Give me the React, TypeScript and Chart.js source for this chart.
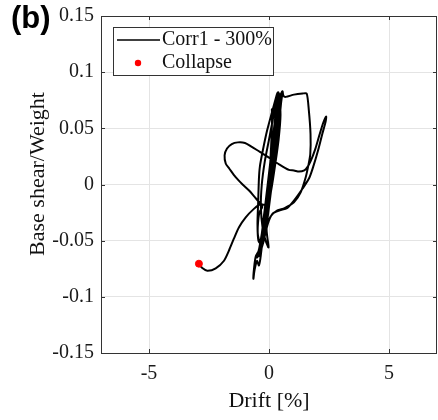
import React, { useEffect, useRef } from "react";
import { Chart, registerables } from "chart.js";

Chart.register(...registerables);

// ---- Data (drift [%], base shear / weight) ----
const xTicks = [-5, 0, 5];
const xTickLabels = ["-5", "0", "5"];
const yTicks = [-0.15, -0.1, -0.05, 0, 0.05, 0.1, 0.15];
const yTickLabels = ["-0.15", "-0.1", "-0.05", "0", "0.05", "0.1", "0.15"];

const seriesLabel = "Corr1 - 300%";
const collapseLabel = "Collapse";

// early narrow cycles in the central band
const bandCyclesA: [number, number][] = [
  [0, 0], [0.06, 0.012], [0.14, 0.028], [0.2, 0.036], [0.16, 0.03], [0.05, 0.012],
  [-0.06, -0.004], [-0.16, -0.02], [-0.24, -0.032], [-0.2, -0.026], [-0.1, -0.01],
  [0.0, 0.006], [0.12, 0.026], [0.22, 0.045], [0.3, 0.06], [0.34, 0.066], [0.3, 0.056],
  [0.18, 0.034], [0.04, 0.01], [-0.1, -0.014], [-0.22, -0.034], [-0.32, -0.05],
  [-0.36, -0.055], [-0.3, -0.046], [-0.18, -0.026], [-0.06, -0.006], [0.04, 0.014],
  [0.1, 0.04], [0.13, 0.06], [0.12, 0.067], [0.16, 0.064], [0.3, 0.072], [0.4, 0.081],
  [0.44, 0.08], [0.42, 0.072], [0.34, 0.055], [0.2, 0.03], [0.06, 0.006], [-0.08, -0.018],
  [-0.22, -0.04], [-0.34, -0.056], [-0.42, -0.064], [-0.36, -0.056], [-0.22, -0.034],
  [-0.08, -0.01],
];

// excursion to the right along the top
const rightLoop: [number, number][] = [
  [0.0, 0.0], [0.15, 0.03], [0.3, 0.06], [0.45, 0.078], [0.56, 0.083], [0.6, 0.079],
  [0.7, 0.078], [1.04, 0.08], [1.4, 0.081], [1.57, 0.081], [1.66, 0.066], [1.73, 0.045],
  [1.72, 0.027], [1.64, 0.017], [1.53, 0.0065], [1.32, -0.007], [1.04, -0.0158],
  [0.65, -0.021], [0.35, -0.023], [0.08, -0.028], [-0.12, -0.038], [-0.28, -0.05],
  [-0.42, -0.06], [-0.5, -0.065], [-0.4, -0.056], [-0.24, -0.036], [-0.1, -0.016],
];

// dense core cycles
const bandCyclesD: [number, number][] = [
  [-0.2, -0.035], [-0.33, -0.05], [-0.22, -0.03], [-0.11, -0.01], [0.0, 0.01], [0.11, 0.03],
  [0.22, 0.05], [0.33, 0.068], [0.37, 0.072], [0.36, 0.066], [0.3, 0.05], [0.19, 0.03],
  [0.08, 0.01], [-0.03, -0.01], [-0.14, -0.03], [-0.25, -0.048], [-0.3, -0.054],
  [-0.24, -0.04], [-0.13, -0.02], [-0.04, 0.0], [0.06, 0.02], [0.16, 0.04], [0.26, 0.06],
  [0.36, 0.076], [0.4, 0.078], [0.38, 0.07], [0.28, 0.05], [0.17, 0.03], [0.06, 0.01],
  [-0.05, -0.01], [-0.16, -0.03], [-0.28, -0.05], [-0.34, -0.057],
  [-0.28, -0.045], [-0.17, -0.025], [-0.07, -0.005], [0.04, 0.015], [0.14, 0.035],
  [0.24, 0.055], [0.3, 0.064], [0.27, 0.06], [0.2, 0.045], [0.1, 0.025], [-0.01, 0.005],
  [-0.12, -0.015], [-0.22, -0.035], [-0.26, -0.043],
  [-0.18, -0.03], [-0.08, -0.01], [0.03, 0.01], [0.13, 0.03], [0.23, 0.05], [0.33, 0.07],
  [0.38, 0.077], [0.34, 0.068], [0.25, 0.05], [0.13, 0.028], [0.02, 0.008], [-0.09, -0.012],
  [-0.2, -0.032], [-0.3, -0.05], [-0.2, -0.035], [-0.08, -0.01],
];

const bandCyclesB: [number, number][] = [
  [0.05, 0.008], [0.18, 0.035], [0.3, 0.058], [0.38, 0.072], [0.42, 0.08], [0.39, 0.082],
  [0.47, 0.076], [0.44, 0.06], [0.32, 0.036], [0.16, 0.01], [0.02, -0.01], [-0.12, -0.03],
  [-0.26, -0.046], [-0.4, -0.058], [-0.55, -0.064], [-0.62, -0.074], [-0.65, -0.084],
  [-0.6, -0.076], [-0.5, -0.068], [-0.42, -0.072], [-0.36, -0.066], [-0.28, -0.052],
  [-0.16, -0.032], [-0.04, -0.01], [0.08, 0.014], [0.2, 0.04], [0.3, 0.062], [0.36, 0.074],
  [0.4, 0.072], [0.34, 0.052], [0.22, 0.026], [0.08, 0.0], [-0.06, -0.022], [-0.18, -0.042],
  [-0.28, -0.054], [-0.44, -0.05], [-0.48, -0.035], [-0.45, -0.015], [-0.42, 0.005],
  [-0.38, 0.016], [-0.26, 0.03], [-0.08, 0.048], [0.12, 0.064], [0.3, 0.078], [0.36, 0.082],
  [0.42, 0.078], [0.48, 0.062], [0.4, 0.04], [0.26, 0.018], [0.1, -0.004], [-0.04, -0.016],
  [-0.2, -0.018],
];

// loop to the left, then the spike at the far right
const leftLoopAndSpike: [number, number][] = [
  [-0.35, -0.017], [-0.6, -0.011], [-0.83, -0.0054], [-1.1, 0.0], [-1.39, 0.0065],
  [-1.65, 0.014], [-1.8, 0.0185], [-1.85, 0.026], [-1.75, 0.032], [-1.55, 0.036],
  [-1.3, 0.0375], [-1.0, 0.037], [-0.75, 0.034], [-0.38, 0.029], [0.0, 0.024],
  [0.42, 0.018], [0.83, 0.013], [1.04, 0.0125], [1.25, 0.0115], [1.47, 0.0125],
  [1.6, 0.0155], [1.74, 0.021], [1.92, 0.031], [2.1, 0.044], [2.26, 0.055], [2.38, 0.0605],
  [2.36, 0.056], [2.22, 0.045], [2.04, 0.03], [1.86, 0.017], [1.68, 0.006], [1.4, -0.0036],
  [1.04, -0.0143], [0.75, -0.021], [0.45, -0.023], [0.15, -0.026],
];

const bandCyclesC: [number, number][] = [
  [-0.05, -0.035], [-0.2, -0.048], [-0.3, -0.056], [-0.22, -0.05], [-0.1, -0.03],
  [0.02, -0.008], [0.14, 0.018], [0.26, 0.045], [0.34, 0.064], [0.4, 0.076], [0.5, 0.08],
  [0.55, 0.081], [0.5, 0.072], [0.4, 0.05], [0.26, 0.024], [0.12, 0.0], [0.0, -0.02],
  [-0.1, -0.04], [-0.02, -0.056], [-0.14, -0.05], [-0.26, -0.04], [-0.34, -0.02],
  [-0.3, 0.0], [-0.18, 0.02], [0.0, 0.04], [0.16, 0.058], [0.26, 0.07], [0.32, 0.074],
  [0.3, 0.06], [0.2, 0.038], [0.08, 0.014], [-0.04, -0.008], [-0.16, -0.03],
  [-0.26, -0.046], [-0.4, -0.05], [-0.47, -0.043], [-0.44, -0.03], [-0.38, -0.024],
  [-0.28, -0.02], [-0.35, -0.0173],
];

// final excursion to collapse
const collapseTail: [number, number][] = [
  [-0.63, -0.0217], [-0.97, -0.0292], [-1.25, -0.038], [-1.46, -0.048], [-1.67, -0.0589],
  [-1.875, -0.0679], [-2.22, -0.0747], [-2.57, -0.0768], [-2.78, -0.0744], [-2.92, -0.0708],
];

const collapsePoint: [number, number] = [-2.92, -0.0705];

const SERIF = "'Liberation Serif', 'Times New Roman', serif";
const SANS = "'Liberation Sans', Arial, sans-serif";
const AXIS_COLOR = "#333333";

const decorPlugin = {
  id: "decor",
  afterDraw(chart: any) {
    const ctx = chart.ctx as CanvasRenderingContext2D;
    const { left, right, top, bottom } = chart.chartArea;
    const xs = chart.scales.x;
    const ys = chart.scales.y;
    ctx.save();
    // box
    ctx.strokeStyle = AXIS_COLOR;
    ctx.lineWidth = 1;
    ctx.strokeRect(Math.round(left) + 0.5, Math.round(top) + 0.5, Math.round(right - left) - 1, Math.round(bottom - top));
    // inward ticks
    const tl = 4;
    ctx.beginPath();
    xTicks.forEach((v) => {
      const px = Math.round(xs.getPixelForValue(v)) + 0.5;
      ctx.moveTo(px, bottom);
      ctx.lineTo(px, bottom - tl);
      ctx.moveTo(px, top);
      ctx.lineTo(px, top + tl);
    });
    yTicks.forEach((v) => {
      const py = Math.round(ys.getPixelForValue(v)) + 0.5;
      ctx.moveTo(left, py);
      ctx.lineTo(left + tl, py);
      ctx.moveTo(right, py);
      ctx.lineTo(right - tl, py);
    });
    ctx.stroke();

    // axis titles
    ctx.fillStyle = "#111";
    ctx.font = `22px ${SERIF}`;
    ctx.textAlign = "center";
    ctx.textBaseline = "middle";
    ctx.fillText("Drift [%]", (left + right) / 2, 401);
    ctx.save();
    ctx.translate(38, 174);
    ctx.rotate(-Math.PI / 2);
    ctx.fillText("Base shear/Weight", 0, 0);
    ctx.restore();

    // panel label
    ctx.font = `bold 31px ${SANS}`;
    ctx.textAlign = "left";
    ctx.fillStyle = "#000";
    ctx.fillText("(b)", 11, 19);

    // legend
    const lx = 113, ly = 27, lw = 160, lh = 48;
    ctx.fillStyle = "#fff";
    ctx.fillRect(lx, ly, lw, lh);
    ctx.strokeStyle = "#333";
    ctx.lineWidth = 1;
    ctx.strokeRect(lx + 0.5, ly + 0.5, lw, lh);
    ctx.strokeStyle = "#000";
    ctx.lineWidth = 1.5;
    ctx.beginPath();
    ctx.moveTo(117, 40);
    ctx.lineTo(160, 40);
    ctx.stroke();
    ctx.fillStyle = "#ff0000";
    ctx.beginPath();
    ctx.arc(138, 63, 3.2, 0, Math.PI * 2);
    ctx.fill();
    ctx.fillStyle = "#111";
    ctx.font = `20px ${SERIF}`;
    ctx.textAlign = "left";
    ctx.textBaseline = "middle";
    ctx.fillText(seriesLabel, 162, 40);
    ctx.fillText(collapseLabel, 162, 63);
    ctx.restore();
  },
};

export default function App() {
  const ref = useRef<HTMLCanvasElement | null>(null);
  useEffect(() => {
    if (!ref.current) return;
    const path = [
      ...bandCyclesA,
      ...rightLoop,
      ...bandCyclesD,
      ...bandCyclesB,
      ...leftLoopAndSpike,
      ...bandCyclesC,
      ...collapseTail,
    ].map(([x, y]) => ({ x, y }));
    const chart = new Chart(ref.current, {
      type: "scatter",
      data: {
        datasets: [
          {
            label: seriesLabel,
            data: path,
            showLine: true,
            borderColor: "#000",
            borderWidth: 2,
            pointRadius: 0,
            tension: 0.25,
            order: 2,
          },
          {
            label: collapseLabel,
            data: [{ x: collapsePoint[0], y: collapsePoint[1] }],
            showLine: false,
            pointRadius: 3.5,
            pointBackgroundColor: "#ff0000",
            pointBorderColor: "#ff0000",
            order: 1,
          },
        ],
      },
      options: {
        responsive: false,
        animation: false,
        layout: { padding: { left: 0, right: 1, top: 16, bottom: 0 } },
        plugins: { legend: { display: false }, tooltip: { enabled: false } },
        scales: {
          x: {
            type: "linear",
            min: -7,
            max: 7,
            afterBuildTicks: (s: any) => {
              s.ticks = xTicks.map((v) => ({ value: v }));
            },
            afterFit: (s: any) => {
              s.height = 67;
              s.paddingLeft = 0;
              s.paddingRight = 0;
            },
            grid: { color: "#e4e4e4", drawTicks: false, lineWidth: 1 },
            border: { display: false },
            ticks: {
              padding: 9,
              color: "#1a1a1a",
              font: { family: SERIF, size: 20 },
              callback: (v: any) => {
                const i = xTicks.indexOf(Number(v));
                return i >= 0 ? xTickLabels[i] : "";
              },
            },
          },
          y: {
            type: "linear",
            min: -0.15,
            max: 0.15,
            afterBuildTicks: (s: any) => {
              s.ticks = yTicks.map((v) => ({ value: v }));
            },
            afterFit: (s: any) => {
              s.width = 101;
              s.paddingTop = 0;
              s.paddingBottom = 0;
            },
            grid: { color: "#e4e4e4", drawTicks: false, lineWidth: 1 },
            border: { display: false },
            ticks: {
              padding: 7,
              color: "#1a1a1a",
              font: { family: SERIF, size: 20 },
              callback: (v: any) => {
                const i = yTicks.findIndex((t) => Math.abs(t - Number(v)) < 1e-9);
                return i >= 0 ? yTickLabels[i] : "";
              },
            },
          },
        },
      },
      plugins: [decorPlugin],
    });
    return () => chart.destroy();
  }, []);
  return (
    <div style={{ position: "absolute", left: 0, top: 0, width: 438, height: 420, overflow: "hidden", background: "#fff" }}>
      <canvas ref={ref} width={442} height={420} style={{ display: "block" }} />
    </div>
  );
}
